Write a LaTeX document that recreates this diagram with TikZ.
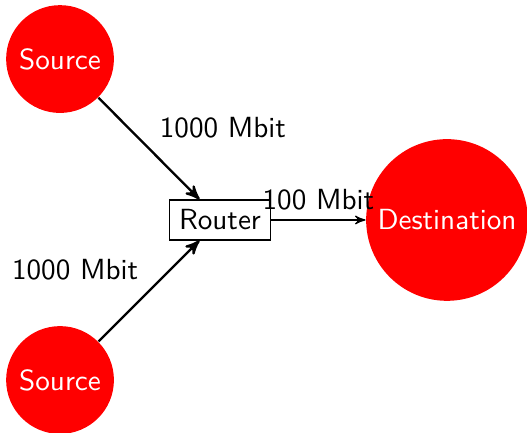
\documentclass[tikz,border=0pt]{standalone}
\usepackage{tikz}
\usetikzlibrary{arrows}

\begin{document}
\begin{tikzpicture}[>=stealth', font=\sffamily,
                   host/.style={shape=circle,fill=red,text=white,minimum size=1.30cm,inner sep=0pt},
                   sink/.style={shape=circle,fill=red,text=white,minimum size=1.95cm,inner sep=0pt}]
\useasboundingbox (-2.653,2.653) rectangle (3.703,-2.569);
\node[draw] (router) at (0,0) {Router};
\node[host] (src1) at (-1.929,1.941) {Source};
\node[host] (src2) at (-1.929,-1.930) {Source};
\node[sink] (dst) at (2.738,0) {Destination};

\draw[->,thick] (src1) -- node[above right]{1000 Mbit} (router);
\draw[->,thick] (src2) -- node[above left]{1000 Mbit} (router);
\draw[->,thin] (router) -- node[above]{100 Mbit} (dst);
\end{tikzpicture}
\end{document}
